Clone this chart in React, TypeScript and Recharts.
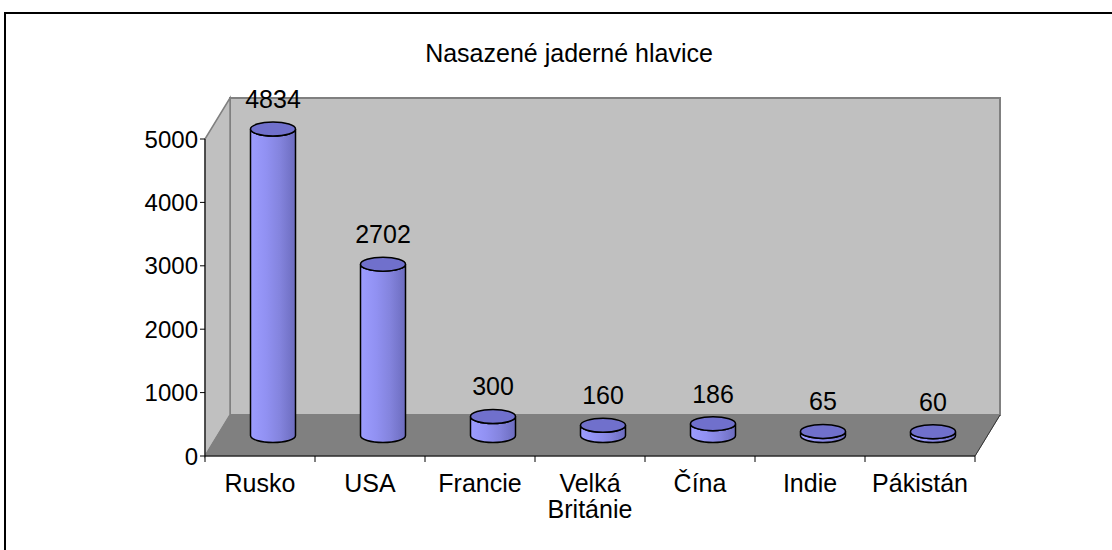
import React from "react"
import { Bar, BarChart, XAxis, YAxis } from "recharts"

// data
const countries = ["Rusko", "USA", "Francie", "Velká Británie", "Čína", "Indie", "Pákistán"]
const warheads = [4834, 2702, 300, 160, 186, 65, 60]
const yTicks = [0, 1000, 2000, 3000, 4000, 5000]
const title = "Nasazené jaderné hlavice"

const data = countries.map((name, i) => ({ name, value: warheads[i] }))

// layout
const W = 1112
const H = 550
const FONT = "'Liberation Sans', Arial, sans-serif"
const Y_AXIS_W = 205
const MARGIN = { top: 139, right: 137, bottom: 34, left: 0 }
const X_AXIS_H = 60
const PL = MARGIN.left + Y_AXIS_W
const PR = W - MARGIN.right
const PT = MARGIN.top
const PB = H - MARGIN.bottom - X_AXIS_H
const DX = 25
const DY = -41
const BAND = (PR - PL) / countries.length
const RY = 7
const TICK_MARGIN = 18

const Cylinder = (props: any) => {
  const { x, y, width, height, payload } = props
  const rx = width / 2
  const cx = x + rx + DX / 2
  const top = y + DY / 2
  const bot = y + height + DY / 2
  const side = `M${cx - rx},${top} L${cx - rx},${bot} A${rx},${RY} 0 0 0 ${cx + rx},${bot} L${cx + rx},${top} A${rx},${RY} 0 0 1 ${cx - rx},${top} Z`
  return (
    <g>
      <path d={side} fill="url(#cylSide)" stroke="#000" strokeWidth={1.5} />
      <ellipse cx={cx} cy={top} rx={rx} ry={RY} fill="#7070CC" stroke="#000" strokeWidth={1.5} />
      <text x={cx} y={top - RY - 14} textAnchor="middle" fontSize={25} fontFamily={FONT} fill="#000">
        {payload.value}
      </text>
    </g>
  )
}

const CategoryTick = (props: any) => {
  const { x, y, payload, index } = props
  const axisY = y - TICK_MARGIN
  const half = BAND / 2
  const lines = String(payload.value).split(" ")
  return (
    <g>
      <line x1={x - half} x2={x - half} y1={axisY} y2={axisY + 6} stroke="#000" />
      {index === countries.length - 1 && (
        <line x1={x + half} x2={x + half} y1={axisY} y2={axisY + 6} stroke="#000" />
      )}
      <text x={x} y={y + 18} textAnchor="middle" fontSize={25} fontFamily={FONT} fill="#000">
        {lines.map((l, i) => (
          <tspan key={i} x={x} dy={i === 0 ? 0 : 26}>
            {l}
          </tspan>
        ))}
      </text>
    </g>
  )
}

export default function App() {
  return (
    <div style={{ position: "absolute", left: 0, top: 0, width: W, height: H, background: "#fff" }}>
      <BarChart width={W} height={H} data={data} margin={MARGIN}>
        <defs>
          <linearGradient id="cylSide" x1="0" y1="0" x2="1" y2="0">
            <stop offset="0%" stopColor="#9C9CFF" />
            <stop offset="35%" stopColor="#9191F2" />
            <stop offset="65%" stopColor="#8484DE" />
            <stop offset="100%" stopColor="#6C6CBE" />
          </linearGradient>
        </defs>
        <line x1={4} y1={13} x2={W} y2={13} stroke="#000" strokeWidth={2} />
        <line x1={5} y1={12} x2={5} y2={H} stroke="#000" strokeWidth={2} />
        <text x={569} y={62} textAnchor="middle" fontSize={25} fontFamily={FONT} fill="#000">
          {title}
        </text>
        <polygon
          points={`${PL + DX},${PT + DY} ${PR + DX},${PT + DY} ${PR + DX},${PB + DY} ${PL + DX},${PB + DY}`}
          fill="#C0C0C0"
          stroke="#808080"
          strokeWidth={2}
        />
        <polygon
          points={`${PL},${PT} ${PL + DX},${PT + DY} ${PL + DX},${PB + DY} ${PL},${PB}`}
          fill="#C0C0C0"
          stroke="#808080"
          strokeWidth={1.5}
        />
        <polygon
          points={`${PL},${PB} ${PL + DX},${PB + DY} ${PR + DX},${PB + DY} ${PR},${PB}`}
          fill="#808080"
          stroke="#808080"
          strokeWidth={1}
        />
        <line x1={PR} y1={PB} x2={PR + DX} y2={PB + DY} stroke="#333" strokeWidth={1} />
        <XAxis
          dataKey="name"
          height={X_AXIS_H}
          interval={0}
          tickLine={false}
          tickSize={0}
          tickMargin={TICK_MARGIN}
          axisLine={{ stroke: "#000" }}
          tick={<CategoryTick />}
        />
        <YAxis
          width={Y_AXIS_W}
          domain={[0, 5000]}
          ticks={yTicks}
          interval={0}
          tickSize={5}
          axisLine={{ stroke: "#000" }}
          tickLine={{ stroke: "#000" }}
          tick={{ fill: "#000", fontSize: 24, fontFamily: FONT }}
        />
        <Bar dataKey="value" barSize={45} shape={<Cylinder />} isAnimationActive={false} />
      </BarChart>
    </div>
  )
}
